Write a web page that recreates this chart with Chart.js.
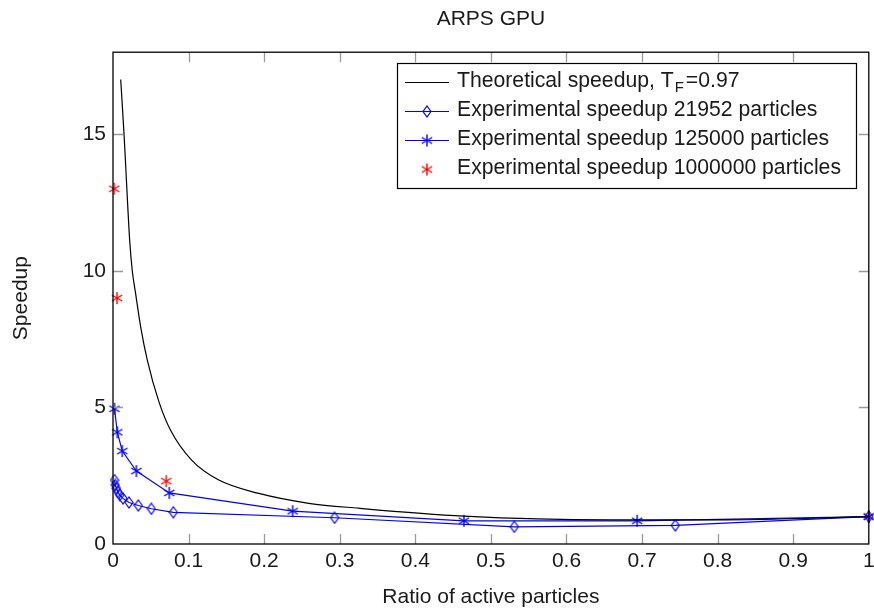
<!DOCTYPE html>
<html>
<head>
<meta charset="utf-8">
<script src="https://cdn.jsdelivr.net/npm/chart.js@4/dist/chart.umd.min.js"></script>
<style>
  html, body { margin: 0; padding: 0; background: #fff; }
  #wrap { width: 874px; height: 610px; }
</style>
</head>
<body>
<div id="wrap"><canvas id="speedupChart" width="874" height="610"></canvas></div>
<script>
// data
var ratioTheory = [0.0102, 0.0146, 0.0221, 0.0255, 0.0299, 0.0366, 0.0454, 0.0608, 0.076, 0.104, 0.14, 0.193, 0.259, 0.325, 0.464, 0.656, 0.80, 1.0];
var speedupTheory = [17.0, 15.0, 11.1, 10.0, 9.17, 7.95, 6.73, 5.2, 4.17, 3.07, 2.34, 1.85, 1.49, 1.31, 1.02, 0.88, 0.88, 1.0];

var ratio21952 = [0.002, 0.003, 0.0045, 0.0063, 0.009, 0.0132, 0.0212, 0.0335, 0.0507, 0.0798, 0.2932, 0.531, 0.744, 1.0];
var speedup21952 = [2.34, 2.16, 2.04, 1.91, 1.79, 1.67, 1.52, 1.41, 1.29, 1.16, 0.96, 0.63, 0.68, 1.0];

var ratio125000 = [0.002, 0.0057, 0.0123, 0.031, 0.0745, 0.2377, 0.4643, 0.6935, 1.0];
var speedup125000 = [4.95, 4.09, 3.40, 2.67, 1.87, 1.20, 0.85, 0.85, 1.0];

var ratio1000000 = [0.0017, 0.0053, 0.0705, 1.0];
var speedup1000000 = [13.0, 9.0, 2.30, 1.0];

var xTicks = [0, 0.1, 0.2, 0.3, 0.4, 0.5, 0.6, 0.7, 0.8, 0.9, 1];
var yTicks = [0, 5, 10, 15];

var seriesNames = ['Theoretical speedup, T', 'Experimental speedup 21952 particles', 'Experimental speedup 125000 particles', 'Experimental speedup 1000000 particles'];

var FONT = "'Liberation Sans', Arial, sans-serif";
var TEXT = '#1a1a1a';

function toPoints(xs, ys) {
  var out = [];
  for (var i = 0; i < xs.length; i++) out.push({ x: xs[i], y: ys[i] });
  return out;
}

// marker images (narrow diamond and 6 spoke asterisk like pgfplots)
function makeDiamond(color) {
  var c = document.createElement('canvas');
  c.width = 10; c.height = 13;
  var g = c.getContext('2d');
  g.strokeStyle = color; g.lineWidth = 1.2;
  g.beginPath();
  g.moveTo(5, 1); g.lineTo(9, 6.5); g.lineTo(5, 12); g.lineTo(1, 6.5);
  g.closePath();
  g.stroke();
  return c;
}
function makeAsterisk(color) {
  var c = document.createElement('canvas');
  c.width = 14; c.height = 14;
  var g = c.getContext('2d');
  g.strokeStyle = color; g.lineWidth = 1.4;
  var r = 6;
  g.beginPath();
  for (var k = 0; k < 3; k++) {
    var a = Math.PI / 2 + k * Math.PI / 3;
    g.moveTo(7 + r * Math.cos(a), 7 + r * Math.sin(a));
    g.lineTo(7 - r * Math.cos(a), 7 - r * Math.sin(a));
  }
  g.stroke();
  return c;
}
var diamondBlue = makeDiamond('#0000ff');
var starBlue = makeAsterisk('#0000ff');
var starRed = makeAsterisk('#ff0000');

// frame + inward tick marks on all four sides
var frameTicks = {
  id: 'frameTicks',
  afterDatasetsDraw: function(chart) {
    var ctx = chart.ctx, a = chart.chartArea;
    var xs = chart.scales.x, ys = chart.scales.y;
    var len = 10;
    ctx.save();
    ctx.strokeStyle = '#9a9a9a';
    ctx.lineWidth = 1.3;
    ctx.beginPath();
    xTicks.forEach(function(v) {
      var px = Math.round(xs.getPixelForValue(v)) + 0.5;
      if (v === 0 || v === 1) return;
      ctx.moveTo(px, a.bottom); ctx.lineTo(px, a.bottom - len);
      ctx.moveTo(px, a.top); ctx.lineTo(px, a.top + len);
    });
    yTicks.forEach(function(v) {
      var py = Math.round(ys.getPixelForValue(v)) + 0.5;
      if (v === 0) return;
      ctx.moveTo(a.left, py); ctx.lineTo(a.left + len, py);
      ctx.moveTo(a.right, py); ctx.lineTo(a.right - len, py);
    });
    ctx.stroke();
    ctx.strokeStyle = '#000';
    ctx.lineWidth = 1.3;
    ctx.strokeRect(a.left, a.top, a.right - a.left, a.bottom - a.top);
    ctx.restore();
  }
};

// boxed legend in the upper right of the plot
var boxLegend = {
  id: 'boxLegend',
  afterDraw: function(chart) {
    var ctx = chart.ctx;
    var bx = 397, by = 63, bw = 459, bh = 125;
    ctx.save();
    ctx.fillStyle = '#fff';
    ctx.fillRect(bx, by, bw, bh);
    ctx.strokeStyle = '#000';
    ctx.lineWidth = 1.2;
    ctx.strokeRect(bx + 0.5, by + 0.5, bw, bh);

    var rows = [82.5, 111.5, 140.5, 169.5];
    var colors = ['#000', '#0000ff', '#0000ff', null];
    var marks = [null, diamondBlue, starBlue, starRed];
    for (var i = 0; i < 4; i++) {
      var y = rows[i];
      if (colors[i]) {
        ctx.strokeStyle = colors[i];
        ctx.lineWidth = 1.2;
        ctx.beginPath();
        ctx.moveTo(405, y); ctx.lineTo(449, y);
        ctx.stroke();
      }
      if (marks[i]) {
        ctx.drawImage(marks[i], 427 - marks[i].width / 2, y - marks[i].height / 2);
      }
      ctx.fillStyle = TEXT;
      ctx.font = '21.2px ' + FONT;
      ctx.textBaseline = 'middle';
      ctx.textAlign = 'left';
      ctx.fillText(seriesNames[i], 457, y - 1);
      if (i === 0) {
        var w = ctx.measureText(seriesNames[0]).width;
        ctx.font = '15px ' + FONT;
        ctx.fillText('F', 457 + w + 1, y + 5);
        var w2 = ctx.measureText('F').width;
        ctx.font = '21.2px ' + FONT;
        ctx.fillText('=0.97', 457 + w + w2 + 3, y - 1);
      }
    }
    ctx.restore();
  }
};

var ctxS = document.getElementById('speedupChart').getContext('2d');
var speedupChart = new Chart(ctxS, {
  type: 'scatter',
  data: {
    datasets: [{
      label: seriesNames[0],
      data: toPoints(ratioTheory, speedupTheory),
      showLine: true,
      borderColor: '#000',
      borderWidth: 1.2,
      pointRadius: 0,
      cubicInterpolationMode: 'monotone',
      clip: false
    },
    {
      label: seriesNames[1],
      data: toPoints(ratio21952, speedup21952),
      showLine: true,
      borderColor: '#0000ff',
      borderWidth: 1.2,
      pointStyle: diamondBlue,
      clip: false
    },
    {
      label: seriesNames[2],
      data: toPoints(ratio125000, speedup125000),
      showLine: true,
      borderColor: '#0000ff',
      borderWidth: 1.2,
      pointStyle: starBlue,
      clip: false
    },
    {
      label: seriesNames[3],
      data: toPoints(ratio1000000, speedup1000000),
      showLine: false,
      borderColor: '#ff0000',
      pointStyle: starRed,
      clip: false
    }]
  },
  options: {
    responsive: false,
    animation: false,
    layout: { padding: { left: 0, right: 4, top: 0, bottom: 0 } },
    plugins: {
      legend: { display: false },
      tooltip: { enabled: false },
      title: {
        display: true,
        text: 'ARPS GPU',
        fullSize: false,
        color: TEXT,
        font: { family: FONT, size: 21, weight: 'normal' },
        padding: { top: 7, bottom: 20 }
      }
    },
    scales: {
      x: {
        type: 'linear',
        min: 0,
        max: 1,
        grid: { display: false, drawTicks: false },
        border: { display: false },
        afterBuildTicks: function(scale) {
          scale.ticks = xTicks.map(function(v) { return { value: v }; });
        },
        ticks: {
          color: TEXT,
          padding: 5,
          font: { family: FONT, size: 21 },
          maxRotation: 0,
          callback: function(v) { return String(Math.round(v * 10) / 10); }
        },
        title: {
          display: true,
          text: 'Ratio of active particles',
          color: TEXT,
          font: { family: FONT, size: 21 },
          padding: { top: 0, bottom: 0 }
        },
        afterFit: function(scale) {
          scale.height = 66;
          scale.paddingRight = 0;
        }
      },
      y: {
        type: 'linear',
        min: 0,
        max: 18,
        grid: { display: false, drawTicks: false },
        border: { display: false },
        afterBuildTicks: function(scale) {
          scale.ticks = yTicks.map(function(v) { return { value: v }; });
        },
        ticks: {
          color: TEXT,
          padding: 7,
          font: { family: FONT, size: 21 }
        },
        title: {
          display: true,
          text: 'Speedup',
          color: TEXT,
          font: { family: FONT, size: 21 },
          padding: { top: 9, bottom: 0 }
        },
        afterFit: function(scale) {
          scale.width = 113;
        }
      }
    }
  },
  plugins: [frameTicks, boxLegend]
});
</script>
</body>
</html>
